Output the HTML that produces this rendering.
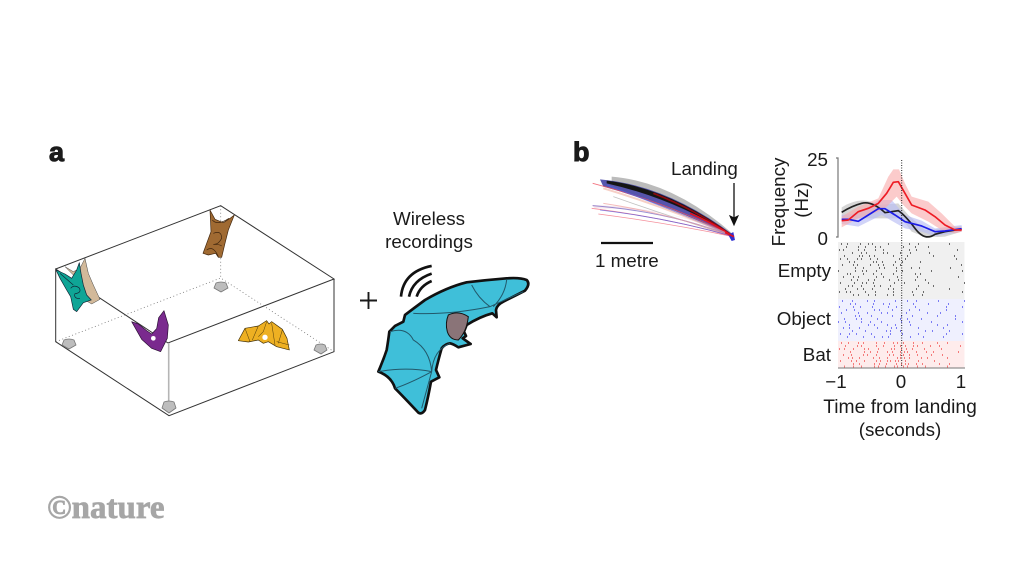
<!DOCTYPE html>
<html><head><meta charset="utf-8"><style>
html,body{margin:0;padding:0;background:#fff;width:1024px;height:576px;overflow:hidden}
svg{display:block}
text{font-family:"Liberation Sans",sans-serif;fill:#1a1a1a;font-size:18.8px}
.m{text-anchor:middle}.e{text-anchor:end}
.r path{fill:none;stroke-width:2;opacity:.7}
</style></head><body>
<svg width="1024" height="576" viewBox="0 0 1024 576" xmlns="http://www.w3.org/2000/svg">
<rect width="1024" height="576" fill="#fff"/>
<text x="49" y="161" style="font-size:27px;font-weight:bold;stroke:#1a1a1a;stroke-width:1">a</text>
<text x="573" y="161" style="font-size:27px;font-weight:bold;stroke:#1a1a1a;stroke-width:1">b</text>

<!-- box -->
<g fill="none" stroke-width=".8" stroke="#777" stroke-dasharray="1 2.5">
<path d="M55.7 341.7L220.7 278L334 351.7"/><path d="M220.7 205.7V278"/>
</g>
<g fill="none" stroke="#333" stroke-width="1">
<path d="M55.7 269L220.7 205.7L334 279L168 343L55.7 269V341.7L169 415.7L334 351.7V279"/>
</g>
<path d="M168.7 343V410" stroke="#b5b5b5" stroke-width="1.6" fill="none"/>
<g fill="#bdbdbd" stroke="#777" stroke-width=".8" stroke-linejoin="round">
<path d="M62 345l2-5q5-2 10 0l2 5l-7 4z"/><path d="M214 288l2-5q5-2 10 0l2 5l-7 4z"/><path d="M162 408l2-6q5-2 10 0l2 6l-7 5z"/><path d="M314 350l2-5q5-2 9 0l2 5l-6 4z"/>
</g>

<!-- small bats (zoom 7 coords) -->
<g transform="translate(50,250) scale(.3333)">
<path d="M45 50L70 65L90 55L105 25L115 70L130 105L150 148L125 162L105 150L95 90L70 75Z" fill="#d2b99a" stroke="#444" stroke-width="1.5" stroke-linejoin="round"/>
<path d="M18 60L45 72L65 85L80 60L88 38L93 70L100 105L110 135L124 150L100 158L80 185L70 178L62 140L50 120L30 85Z" fill="#0fa596" stroke="#123" stroke-width="2" stroke-linejoin="round"/>
<path d="M62 115q10-12 25-2q10 15-12 18q-5 15 15 15M30 70L70 105" fill="none" stroke="#123" stroke-width="2"/>
<path d="M245 215L265 222L290 242L305 252L320 236L326 203L342 182L355 225L352 265L332 305L305 295L275 268Z" fill="#7a2a8e" stroke="#2a1033" stroke-width="2" stroke-linejoin="round"/>
<circle cx="310" cy="265" r="7" fill="#fff"/>
</g>
<g transform="translate(195,200) scale(.3333)">
<path d="M45 30L60 58L85 68L105 55L118 45L100 90L90 130L80 172L70 172L62 160L40 165L24 160L35 130L48 95Z" fill="#a06a32" stroke="#40260e" stroke-width="2" stroke-linejoin="round"/>
<path d="M52 60q15 18 50-5M55 100q25-10 25 15q-10 20-25 18q20 0 25 5M35 150q20-15 35 20" fill="none" stroke="#40260e" stroke-width="2"/>
<path d="M130 422L150 385L190 378L215 362L222 372L230 365L262 388L276 415L283 450L245 440L220 425L205 430L190 420L160 426Z" fill="#eeb022" stroke="#40300a" stroke-width="2" stroke-linejoin="round"/>
<path d="M150 385L165 425M190 378L172 420M215 365L205 395L190 410M230 370L240 435M262 390L250 430M283 435L245 425" fill="none" stroke="#5a420c" stroke-width="1.6"/>
<circle cx="210" cy="412" r="8" fill="#fff"/>
</g>

<path d="M360 300.5H377M368.5 292V309" stroke="#1a1a1a" stroke-width="1.9" fill="none"/>
<text x="429" y="225" class="m">Wireless</text>
<text x="429" y="248" class="m">recordings</text>

<!-- big bat -->
<g transform="translate(350,200) scale(.3333)">
<path d="M350 247Q410 240 470 235Q510 232 530 240Q542 252 525 272Q490 290 460 305Q440 315 438 330L440 352L427 340Q390 350 350 375L342 395L348 408L338 415L362 432L325 442Q310 432 300 430Q285 432 275 445Q265 480 258 510L268 532L243 545Q235 590 225 630Q215 645 205 638Q160 590 135 565Q125 530 85 515Q100 480 110 450Q115 420 118 395L135 378L160 365L165 345Q195 322 225 300Q290 262 350 247Z" fill="#3fbfd9" stroke="#111" stroke-width="8" stroke-linejoin="round"/>
<path d="M190 340Q300 345 420 320L520 275M365 255Q385 295 420 320M470 240Q465 285 430 320M120 395Q170 380 190 420Q240 450 245 515M85 515Q170 500 245 515M245 515Q180 550 135 565M245 515L215 625M245 515Q250 450 300 430" fill="none" stroke="#22586a" stroke-width="3"/>
<path d="M295 345Q325 330 355 350Q350 395 325 420Q300 420 292 395Q285 370 295 345Z" fill="#8a7478" stroke="#111" stroke-width="3"/>
<g fill="none" stroke="#111" stroke-width="8">
<path d="M153 290Q160 215 245 198"/><path d="M177 290Q188 240 245 221"/><path d="M200 290Q210 258 245 243"/>
</g>
</g>

<!-- b trajectories (zoom 3 coords) -->
<g transform="translate(570,140) scale(.3333)" fill="none">
<path d="M85 120Q300 170 490 290L490 285Q330 205 75 205L65 195Q300 200 490 290Z" fill="#e8c8d8" opacity=".45"/>
<path d="M125 110Q310 125 490 283L490 290Q300 175 125 130Z" fill="#aaa" opacity=".8"/>
<path d="M90 118Q290 135 490 285L490 293Q300 195 100 140Z" fill="#3a3aa0" opacity=".85"/>
<path d="M110 122Q300 145 490 287Q310 175 110 130Z" fill="#151515"/>
<path d="M250 160Q380 210 490 290" stroke="#8a0a10" stroke-width="5"/>
<path d="M360 220Q430 250 490 290" stroke="#e01020" stroke-width="5"/>
<path d="M68 130Q300 190 490 290" stroke="#f05060" stroke-width="2.5" opacity=".8"/>
<path d="M110 135Q300 205 490 290" stroke="#5060e0" stroke-width="3" opacity=".7"/>
<path d="M130 170Q300 230 490 290" stroke="#999" stroke-width="2.5" opacity=".6"/>
<path d="M100 145Q300 205 490 290" stroke="#f0b0a0" stroke-width="6" opacity=".6"/>
<path d="M68 197Q300 215 490 290" stroke="#7060c0" stroke-width="3" opacity=".7"/>
<path d="M100 190Q300 220 490 290" stroke="#f0a0a0" stroke-width="3" opacity=".7"/>
<path d="M65 205Q300 235 490 290" stroke="#f06070" stroke-width="2.5" opacity=".7"/>
<path d="M90 210Q300 235 490 290" stroke="#5050e0" stroke-width="2.5" opacity=".7"/>
<path d="M85 222Q300 250 490 290" stroke="#f06070" stroke-width="2.5" opacity=".7"/>
<path d="M475 285L490 276L495 300L485 303Z" fill="#3030d0"/>
<path d="M465 278L492 290" stroke="#e01020" stroke-width="5"/>
</g>
<path d="M601 243H653" stroke="#111" stroke-width="2.2"/>
<text x="595" y="267">1 metre</text>
<text x="671" y="175">Landing</text>
<path d="M734 183V218" stroke="#111" stroke-width="1.3"/>
<path d="M730 216L734 225L738 216L734 218Z" fill="#111" stroke="#111"/>

<!-- chart -->
<g transform="translate(765,150) scale(.3333)">
<path d="M230 172Q290 135 340 165L400 160L430 195L480 240L540 235L590 228V245L540 260Q480 265 440 245L410 205L350 205Q290 205 230 205Z" fill="#bbb" opacity=".6"/>
<path d="M230 195L280 190L340 150L380 150L420 195L470 212L510 235L590 225V245L510 258L470 245L420 235L350 195L280 230L230 222Z" fill="#b9bdf5" opacity=".65"/>
<path d="M230 200L280 170L340 145L370 80L385 58L402 58L420 100L440 140L490 155L530 190L570 230L590 232V245L570 250L530 240L490 215L440 190L415 165L395 140L365 170L340 185L280 205L230 232Z" fill="#f8a9a9" opacity=".6"/>
<path d="M230 187Q260 168 290 160T360 188L400 182Q420 195 450 235T510 253L540 245L590 237" fill="none" stroke="#222" stroke-width="5"/>
<path d="M230 208H250L280 214L310 195L340 176H360L390 195L420 215L470 228L510 245L540 243L590 236" fill="none" stroke="#1c1ce8" stroke-width="5" stroke-linejoin="round"/>
<path d="M230 212L250 210L280 185L310 175L340 160L365 130L385 97L400 95L420 130L440 165L480 180L510 200L540 225L570 240H590" fill="none" stroke="#ee1c25" stroke-width="5" stroke-linejoin="round"/>
</g>
<path d="M836 158H838V237H836" fill="none" stroke="#777" stroke-width="1.2"/>

<rect x="838" y="242" width="126.5" height="57" fill="#f0f0f0"/>
<rect x="838" y="299" width="126.5" height="42" fill="#eff0fe"/>
<rect x="838" y="341" width="126.5" height="27" fill="#feecec"/>

<g class="r" stroke="#333">
<path d="M841 244H965" stroke-dasharray="1 5 1 12 1 7 1 3 1 15 1 20 1 8 1 30 1 200"/>
<path d="M846 247H965" stroke-dasharray="1 11 1 6 1 9 1 4 1 22 1 11 1 12 1 38 1 200"/>
<path d="M839 250H965" stroke-dasharray="1 3 1 14 1 5 1 10 1 7 1 25 1 6 1 40 1 200"/>
<path d="M852 253H965" stroke-dasharray="1 8 1 4 1 16 1 3 1 12 1 9 1 18 1 35 1 200"/>
<path d="M844 256H965" stroke-dasharray="1 14 1 2 1 6 1 4 1 18 1 13 1 25 1 20 1 200"/>
<path d="M840 259H965" stroke-dasharray="1 6 1 9 1 3 1 8 1 6 1 21 1 5 1 50 1 200"/>
<path d="M849 262H965" stroke-dasharray="1 4 1 18 1 2 1 5 1 12 1 6 1 17 1 45 1 200"/>
<path d="M842 265H965" stroke-dasharray="1 10 1 3 1 12 1 7 1 4 1 9 1 6 1 60 1 200"/>
<path d="M855 268H965" stroke-dasharray="1 7 1 15 1 4 1 11 1 14 1 7 1 30 1 18 1 200"/>
<path d="M838 271H965" stroke-dasharray="1 16 1 6 1 3 1 9 1 19 1 5 1 28 1 30 1 200"/>
<path d="M847 274H965" stroke-dasharray="1 2 1 12 1 9 1 7 1 11 1 21 1 4 1 52 1 200"/>
<path d="M843 277H965" stroke-dasharray="1 9 1 4 1 17 1 6 1 13 1 19 1 40 1 10 1 200"/>
<path d="M851 280H965" stroke-dasharray="1 5 1 10 1 5 1 14 1 8 1 16 1 9 1 44 1 200"/>
<path d="M840 283H965" stroke-dasharray="1 13 1 7 1 3 1 6 1 20 1 9 1 23 1 35 1 200"/>
<path d="M848 286H965" stroke-dasharray="1 3 1 8 1 12 1 5 1 9 1 27 1 14 1 40 1 200"/>
<path d="M845 289H965" stroke-dasharray="1 11 1 5 1 8 1 15 1 4 1 22 1 32 1 16 1 200"/>
<path d="M839 292H965" stroke-dasharray="1 6 1 3 1 14 1 9 1 17 1 18 1 10 1 38 1 200"/>
<path d="M853 295H965" stroke-dasharray="1 4 1 9 1 6 1 11 1 5 1 19 1 8 1 58 1 200"/>
</g>
<g class="r" stroke="#4a4af0">
<path d="M842 301H965" stroke-dasharray="1 9 1 14 1 6 1 20 1 11 1 8 1 21 1 25 1 200"/>
<path d="M850 304H965" stroke-dasharray="1 4 1 17 1 9 1 5 1 23 1 14 1 19 1 20 1 200"/>
<path d="M839 307H965" stroke-dasharray="1 13 1 6 1 11 1 15 1 7 1 18 1 30 1 15 1 200"/>
<path d="M846 310H965" stroke-dasharray="1 7 1 19 1 4 1 12 1 16 1 9 1 26 1 22 1 200"/>
<path d="M841 313H965" stroke-dasharray="1 16 1 8 1 13 1 5 1 18 1 20 1 12 1 24 1 200"/>
<path d="M855 316H965" stroke-dasharray="1 3 1 11 1 20 1 8 1 10 1 24 1 17 1 23 1 200"/>
<path d="M844 319H965" stroke-dasharray="1 11 1 4 1 15 1 22 1 6 1 13 1 33 1 12 1 200"/>
<path d="M838 322H965" stroke-dasharray="1 6 1 15 1 8 1 10 1 19 1 7 1 21 1 30 1 200"/>
<path d="M849 325H965" stroke-dasharray="1 18 1 5 1 12 1 7 1 14 1 26 1 9 1 28 1 200"/>
<path d="M843 328H965" stroke-dasharray="1 5 1 9 1 17 1 13 1 4 1 21 1 24 1 26 1 200"/>
<path d="M852 331H965" stroke-dasharray="1 12 1 20 1 3 1 9 1 24 1 6 1 16 1 28 1 200"/>
<path d="M840 334H965" stroke-dasharray="1 8 1 6 1 14 1 18 1 11 1 15 1 27 1 15 1 200"/>
<path d="M847 337H965" stroke-dasharray="1 15 1 10 1 7 1 5 1 21 1 12 1 19 1 30 1 200"/>
</g>
<g class="r" stroke="#f04a4a">
<path d="M841 343H965" stroke-dasharray="1 6 1 9 1 4 1 12 1 7 1 8 1 3 1 5 1 9 1 8 1 14 1 9 1 30 1 200"/>
<path d="M845 346H965" stroke-dasharray="1 11 1 3 1 14 1 6 1 10 1 5 1 4 1 7 1 3 1 12 1 8 1 20 1 15 1 200"/>
<path d="M839 349H965" stroke-dasharray="1 4 1 8 1 10 1 3 1 9 1 12 1 2 1 6 1 4 1 5 1 11 1 16 1 30 1 200"/>
<path d="M850 352H965" stroke-dasharray="1 13 1 5 1 6 1 9 1 4 1 7 1 3 1 2 1 8 1 9 1 6 1 24 1 20 1 200"/>
<path d="M843 355H965" stroke-dasharray="1 7 1 11 1 3 1 8 1 12 1 3 1 6 1 2 1 5 1 7 1 13 1 10 1 28 1 200"/>
<path d="M848 358H965" stroke-dasharray="1 3 1 6 1 13 1 5 1 7 1 9 1 2 1 3 1 4 1 11 1 5 1 19 1 22 1 200"/>
<path d="M840 361H965" stroke-dasharray="1 10 1 4 1 7 1 11 1 3 1 6 1 2 1 4 1 2 1 6 1 12 1 15 1 32 1 200"/>
<path d="M853 364H965" stroke-dasharray="1 5 1 14 1 4 1 6 1 9 1 4 1 3 1 2 1 7 1 5 1 16 1 9 1 35 1 200"/>
<path d="M844 366.5H965" stroke-dasharray="1 8 1 7 1 12 1 3 1 6 1 8 1 2 1 5 1 3 1 9 1 7 1 21 1 24 1 200"/>
</g>
<path d="M838 368H965" stroke="#777" stroke-width="1"/>
<path d="M901.7 160V368" stroke="#222" stroke-width="1" stroke-dasharray="1 1.5" fill="none"/>

<text x="828" y="166" class="e">25</text>
<text x="828" y="245" class="e">0</text>
<text transform="translate(785,202) rotate(-90)" class="m">Frequency</text>
<text transform="translate(808,200) rotate(-90)" class="m">(Hz)</text>
<text x="831" y="277" class="e">Empty</text>
<text x="831" y="325" class="e">Object</text>
<text x="831" y="361" class="e">Bat</text>
<text x="836" y="388" class="m">−1</text>
<text x="901" y="388" class="m">0</text>
<text x="961" y="388" class="m">1</text>
<text x="900" y="413" class="m" style="font-size:19.3px">Time from landing</text>
<text x="900" y="436" class="m">(seconds)</text>

<text x="47" y="518" style="font-family:'Liberation Serif',serif;font-size:33px;font-weight:bold;fill:#a6a6a6;stroke:#a6a6a6;stroke-width:.7">©nature</text>
</svg>
</body></html>
